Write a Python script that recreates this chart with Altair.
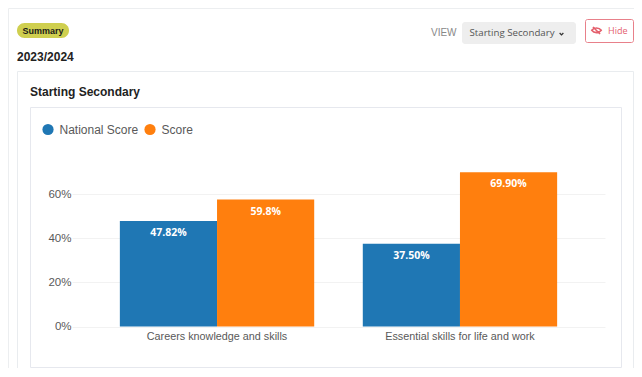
import altair as alt
import pandas as pd

categories = ["Careers knowledge and skills", "Essential skills for life and work"]
series_names = ["National Score", "Score"]
national_values = [47.82, 37.5]
score_values = [57.5, 69.9]
national_labels = ["47.82%", "37.50%"]
score_labels = ["59.8%", "69.90%"]
y_ticks = [0, 10, 20, 30, 40, 50, 60, 70]

BLUE = "#1f77b4"
ORANGE = "#ff7f0e"
TICK_COLOR = "#595959"

# Page position of the plot area
PX, PY = 72, 172
W, H = 533, 154.5


def dx(v):
    return alt.value(v - PX)


def dy(v):
    return alt.value(v - PY)


one = alt.Data(values=[{"a": 1}])


def box(x0, y0, x1, y1, fill="transparent", stroke=None, radius=0, sw=1):
    kw = dict(fill=fill, cornerRadius=radius)
    if stroke:
        kw.update(stroke=stroke, strokeWidth=sw)
    return alt.Chart(one).mark_rect(**kw).encode(
        x=dx(x0), x2=dx(x1), y=dy(y0), y2=dy(y1)
    )


def label(text, x, y, size, color, weight="normal", font="Liberation Sans", align="left"):
    return alt.Chart(one).mark_text(
        text=text, fontSize=size, color=color, fontWeight=weight, font=font,
        align=align, baseline="middle",
    ).encode(x=dx(x), y=dy(y))


rows = []
for i, c in enumerate(categories):
    rows.append({"cat": c, "series": series_names[0], "val": national_values[i], "lab": national_labels[i]})
    rows.append({"cat": c, "series": series_names[1], "val": score_values[i], "lab": score_labels[i]})
df = pd.DataFrame(rows)

x_enc = alt.X(
    "cat:N", sort=categories, title=None,
    scale=alt.Scale(paddingInner=0.2, paddingOuter=0.197),
    axis=alt.Axis(labelAngle=0, labelFontSize=10.8, labelColor=TICK_COLOR, labelFont="Liberation Sans",
                  domain=False, ticks=False, labelPadding=4, grid=False),
)
y_enc = alt.Y(
    "val:Q", title=None, scale=alt.Scale(domain=[0, 70], nice=False),
    axis=alt.Axis(values=y_ticks, labelExpr="datum.value % 20 == 0 ? datum.value + '%' : ''",
                  labelFontSize=11.5, labelColor=TICK_COLOR, labelFont="Liberation Sans",
                  domain=False, ticks=False, labelPadding=1, grid=True,
                  gridColor="#f2f2f2", gridWidth=1),
)
xoff = alt.XOffset("series:N", sort=series_names, scale=alt.Scale(paddingInner=0, paddingOuter=0))

bars = alt.Chart(df).mark_bar().encode(
    x=x_enc, y=y_enc, xOffset=xoff,
    color=alt.Color(
        "series:N", sort=series_names, title=None,
        scale=alt.Scale(domain=series_names, range=[BLUE, ORANGE]),
        legend=alt.Legend(orient="none", legendX=42 - PX, legendY=131 - PY - 7.5, direction="horizontal",
                          symbolType="circle", symbolSize=125, symbolStrokeWidth=0,
                          labelFontSize=12, labelColor=TICK_COLOR, labelFont="Liberation Sans",
                          columnPadding=5, labelOffset=5.5, padding=0),
    ),
)
bar_text = alt.Chart(df).mark_text(
    color="#ffffff", fontWeight="bold", fontSize=10.5, font="Open Sans", baseline="middle", dy=12,
).encode(
    x=alt.X("cat:N", sort=categories), y=alt.Y("val:Q"), xOffset=xoff, text="lab:N",
)

eye_path = (
    "M-1,-0.05 C-0.55,-0.7 0.55,-0.7 1,-0.05 C0.55,0.6 -0.55,0.6 -1,-0.05 Z "
    "M-0.75,-0.75 L0.75,0.75"
)
hide_color = "#e4606d"
icon = alt.Chart(one).mark_point(
    shape=eye_path, size=90, stroke=hide_color, strokeWidth=1.6, filled=False, opacity=1,
).encode(x=dx(596.5), y=dy(30.5))
chevron = alt.Chart(one).mark_point(
    shape="M-1,-0.5 L0,0.5 L1,-0.5", size=14, stroke="#333333", strokeWidth=1.3, filled=False, opacity=1,
).encode(x=dx(561.5), y=dy(34))

chrome = [
    box(8.5, 8.5, 700, 500, stroke="#eceef0"),
    box(17.5, 71.5, 633.5, 392, stroke="#e9ecef"),
    box(30.5, 107.5, 621.5, 367.5, stroke="#e6e8ee"),
    box(17, 23, 69, 38, fill="#cfcf4f", radius=7.5),
    label("Summary", 22.5, 30.5, 9, "#1a1a1a", "bold"),
    label("2023/2024", 17, 57, 12, "#222222", "bold"),
    label("Starting Secondary", 30, 92, 12, "#222222", "bold"),
    label("VIEW", 431, 33, 10, "#888888"),
    box(462, 22, 576, 44, fill="#eeeeee", radius=3),
    label("Starting Secondary", 469.5, 33, 9.7, "#555555", font="Open Sans"),
    chevron,
    box(585.5, 19.5, 633.5, 42.5, stroke="#e8808a", radius=2),
    icon,
    label("Hide", 608, 30.5, 9, "#e4606d", font="Open Sans"),
]

chart = alt.layer(*chrome, bars, bar_text).resolve_scale(x="shared", y="shared").properties(
    width=W, height=H,
    padding={"left": PX - 8, "top": PY - 8, "right": 634 - PX - W, "bottom": 368 - PY - H},
    autosize=alt.AutoSizeParams(type="none"),
    background="#ffffff",
).configure_view(stroke=None)

chart.save("out.html", embed_options={"renderer": "svg", "actions": False})
